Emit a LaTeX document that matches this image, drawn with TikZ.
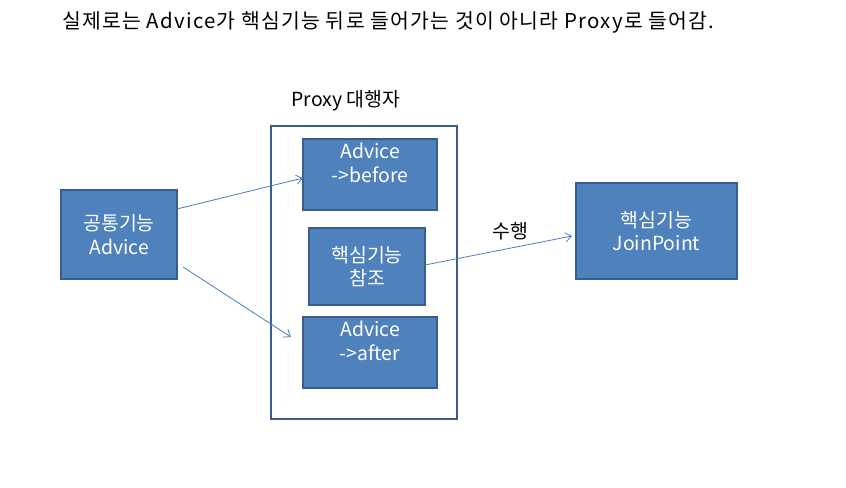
\documentclass[tikz,border=0pt]{standalone}
\usepackage{fontspec}
\setmainfont{Noto Sans CJK KR}
\usetikzlibrary{arrows.meta}
\definecolor{boxfill}{HTML}{4F81BD}
\definecolor{boxline}{HTML}{385D8A}
\definecolor{arrowc}{HTML}{4A7EBB}
\tikzset{
  bluebox/.style={draw=boxline, line width=1.6bp, fill=boxfill, text=white, align=center, inner sep=0pt, font=\fontsize{19.5}{23.5}\selectfont},
  conn/.style={draw=arrowc, line width=0.8bp, -{Straight Barb[length=6bp,width=9bp]}},
  plain/.style={font=\fontsize{19.5}{23.5}\selectfont, inner sep=0pt}
}
\begin{document}
\begin{tikzpicture}[x=1bp,y=-1bp]
\useasboundingbox (0,0) rectangle (846,488);
\node[plain, anchor=west, font=\fontsize{20.5}{24}\selectfont\addfontfeature{LetterSpace=6}] (title) at (62,22) {실제로는 Advice가 핵심기능 뒤로 들어가는 것이 아니라 Proxy로 들어감.};
\node[plain] (plabel) at (346,101) {Proxy 대행자};
\draw[draw=boxline, line width=1.6bp] (271,126) rectangle (457,419);
\node[bluebox, minimum width=116bp, minimum height=89bp] (common) at (119,234.5) {공통기능\\Advice};
\node[bluebox, minimum width=134bp, minimum height=71bp] (before) at (370,174.5) {Advice\\->before\\[-7bp]\strut};
\node[bluebox, minimum width=116bp, minimum height=77bp] (ref) at (367,266.5) {핵심기능\\참조};
\node[bluebox, minimum width=134bp, minimum height=71bp] (after) at (370,352.5) {Advice\\->after\\[-7bp]\strut};
\node[bluebox, minimum width=161bp, minimum height=96bp] (join) at (656.5,231) {핵심기능\\JoinPoint};
\coordinate (afterend) at (291,337);
\coordinate (a1s) at (177,209);
\coordinate (a1e) at (303,178);
\coordinate (a2s) at (183,267);
\coordinate (a3s) at (425,265);
\coordinate (a3e) at (572,236);
\draw[conn] (a1s) -- (a1e);
\draw[conn] (a2s) -- (afterend);
\draw[conn] (a3s) -- (a3e);
\node[plain] (run) at (510,231) {수행};
\end{tikzpicture}
\end{document}
